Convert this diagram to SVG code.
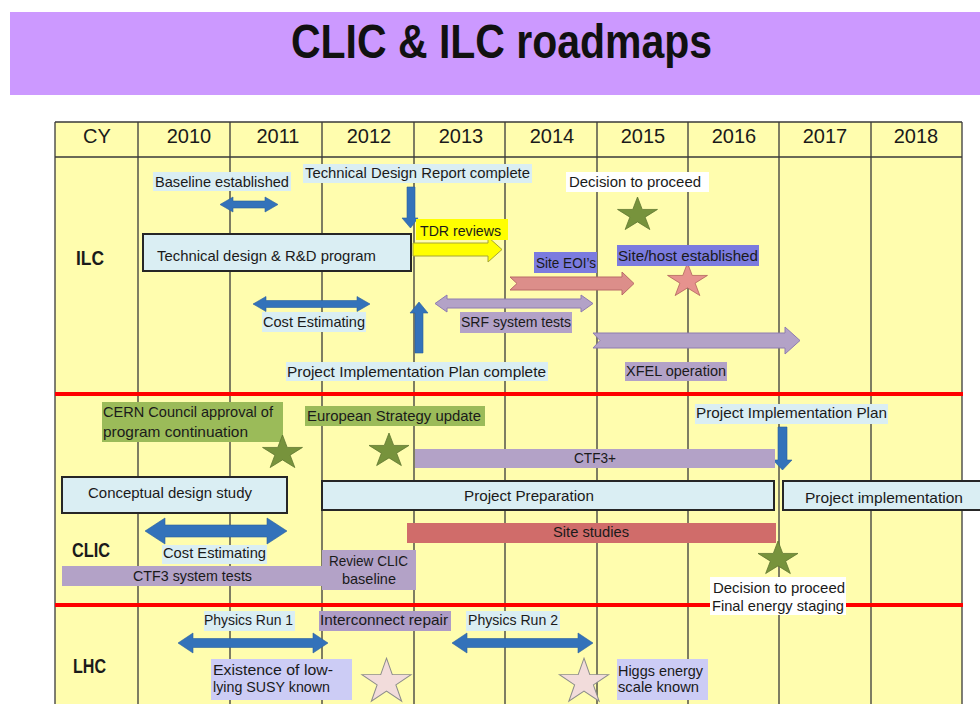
<svg xmlns="http://www.w3.org/2000/svg" xmlns:xlink="http://www.w3.org/1999/xlink" width="980" height="704" viewBox="0 0 980 704">
<style>
text{font-family:"Liberation Sans",Arial,sans-serif;fill:#1a1a1a}
.t{font-size:15px}
.yr{font-size:20px;text-anchor:middle}
.row{font-size:20px;font-weight:bold}
.grid{stroke:#3a3a3a;stroke-width:1.3;fill:none}
.red{stroke:#ff0000;stroke-width:4}
.lb{fill:#daeef3}
.box{fill:#daeef3;stroke:#262626;stroke-width:2}
.lav{fill:#b3a2c7}
.blue{fill:#3372ba;stroke:#2a5f9e;stroke-width:0.6}
.gstar{fill:#77933c;stroke:#5e7530;stroke-width:0.8}
.pstar{fill:#e6928e;stroke:#b0605c;stroke-width:0.8}
.wstar{fill:#f2dcdb;stroke:#8c8c8c;stroke-width:0.8}
</style>
<defs>
<path id="star" d="M0,-20 L4.497,-6.189 L19.021,-6.180 L7.276,2.364 L11.756,16.180 L0,7.65 L-11.756,16.180 L-7.276,2.364 L-19.021,-6.180 L-4.497,-6.189 Z"/>
</defs>

<rect width="980" height="704" fill="#ffffff"/>

<g id="title">
<rect x="10" y="12" width="970" height="83" fill="#cc99ff"/>
<text x="291" y="58" font-size="49" font-weight="bold" textLength="421" lengthAdjust="spacingAndGlyphs" style="fill:#111">CLIC &amp; ILC roadmaps</text>
</g>

<g id="table">
<rect x="55" y="122" width="907" height="590" fill="#fffdae"/>
<path class="grid" d="M55,122 H962 M55,157 H962 M55,122 V704 M138,122 V704 M230,122 V704 M322,122 V704 M414,122 V704 M505,122 V704 M597,122 V704 M688,122 V704 M779,122 V704 M871,122 V704 M962,122 V704"/>
<text class="yr" x="97" y="143">CY</text>
<text class="yr" x="189" y="143">2010</text>
<text class="yr" x="278" y="143">2011</text>
<text class="yr" x="369" y="143">2012</text>
<text class="yr" x="461" y="143">2013</text>
<text class="yr" x="552" y="143">2014</text>
<text class="yr" x="643" y="143">2015</text>
<text class="yr" x="734" y="143">2016</text>
<text class="yr" x="825" y="143">2017</text>
<text class="yr" x="916" y="143">2018</text>
<text class="row" x="76" y="265" textLength="28" lengthAdjust="spacingAndGlyphs">ILC</text>
<text class="row" x="72" y="557" textLength="38" lengthAdjust="spacingAndGlyphs">CLIC</text>
<text class="row" x="73" y="673" textLength="33" lengthAdjust="spacingAndGlyphs">LHC</text>
<line class="red" x1="55" y1="394" x2="963" y2="394"/>
<line class="red" x1="55" y1="605" x2="963" y2="605"/>
</g>

<g id="connectors">
<polygon id="arr-baseline" class="blue" points="220,204.5 233,197 233,201 265,201 265,197 278,204.5 265,212 265,208 233,208 233,212"/>
<polygon id="arr-tdr-down" class="blue" points="407,187 415,187 415,218 418,218 410.5,228 402,218 407,218"/>
<polygon id="arr-tdr-reviews" fill="#ffff00" stroke="#a6a633" stroke-width="1" points="413,243 488,243 488,237 502,249.5 488,262 488,256 413,256"/>
<polygon id="arr-site-eoi" fill="#dc8e8a" stroke="#b86b68" stroke-width="1" points="510,277 622,277 622,272 634,283.5 622,295 622,290 510,290 517,283.5"/>
<polygon id="arr-ilc-cost" class="blue" points="253,304 266,296.5 266,300.5 357,300.5 357,296.5 370,304 357,311.5 357,307.5 266,307.5 266,311.5"/>
<polygon id="arr-srf" class="lav" stroke="#8e7cb0" stroke-width="1" points="435,303.5 447,295 447,299 581,299 581,295 593,303.5 581,312 581,308 447,308 447,312"/>
<polygon id="arr-pip-up" class="blue" points="415,353 423,353 423,313 428,313 419,302 410,313 415,313"/>
<polygon id="arr-xfel" class="lav" stroke="#8e7cb0" stroke-width="1" points="593,333 785,333 785,327 800,340.5 785,354 785,348 593,348 600,340.5"/>
<polygon id="arr-clic-pip" class="blue" points="778,427 787,427 787,460 792,460 782.5,470 773,460 778,460"/>
<polygon id="arr-clic-cost" class="blue" points="145,531 165,518 165,525 267,525 267,518 287,531 267,544 267,537 165,537 165,544"/>
<polygon id="arr-run1" class="blue" points="178,643 193,633 193,638.5 313,638.5 313,633 328,643 313,653 313,647.5 193,647.5 193,653"/>
<polygon id="arr-run2" class="blue" points="452,643 467,633 467,638.5 578,638.5 578,633 593,643 578,653 578,647.5 467,647.5 467,653"/>
</g>

<g id="ilc-baseline"><rect class="lb" x="153" y="172" width="138" height="19"/><text class="t" x="155" y="187" textLength="134" lengthAdjust="spacingAndGlyphs">Baseline established</text></g>
<g id="ilc-tdr-complete"><rect class="lb" x="303" y="164" width="229" height="19"/><text class="t" x="305" y="178" textLength="225" lengthAdjust="spacingAndGlyphs">Technical Design Report complete</text></g>
<g id="ilc-decision"><rect fill="#ffffff" x="566" y="172" width="143" height="20"/><text class="t" x="569" y="187" textLength="132" lengthAdjust="spacingAndGlyphs">Decision to proceed</text><use href="#star" class="gstar" transform="translate(637.5,215) scale(1.05,0.9)"/></g>
<g id="ilc-tdr-reviews"><rect fill="#ffff00" x="416" y="219" width="92" height="21"/><text class="t" x="420" y="236" textLength="81" lengthAdjust="spacingAndGlyphs">TDR reviews</text></g>
<g id="ilc-tech-design"><rect class="box" x="143" y="234" width="268" height="37"/><text class="t" x="157" y="261" textLength="219" lengthAdjust="spacingAndGlyphs">Technical design &amp; R&amp;D program</text></g>
<g id="ilc-site-eoi"><rect fill="#7b7bdf" x="534" y="252" width="63" height="21"/><text class="t" x="536" y="268" textLength="60" lengthAdjust="spacingAndGlyphs">Site EOI’s</text></g>
<g id="ilc-site-host"><use href="#star" class="pstar" transform="translate(687.5,281) scale(1.05,0.9)"/><rect fill="#7b7bdf" x="617" y="245" width="142" height="21"/><text class="t" x="618" y="261" textLength="140" lengthAdjust="spacingAndGlyphs">Site/host established</text></g>
<g id="ilc-cost"><rect class="lb" x="262" y="312" width="104" height="20"/><text class="t" x="263" y="327" textLength="102" lengthAdjust="spacingAndGlyphs">Cost Estimating</text></g>
<g id="ilc-srf"><rect class="lav" x="460" y="312" width="112" height="21"/><text class="t" x="461" y="327" textLength="110" lengthAdjust="spacingAndGlyphs">SRF system tests</text></g>
<g id="ilc-pip"><rect class="lb" x="286" y="362" width="262" height="19"/><text class="t" x="287" y="377" textLength="259" lengthAdjust="spacingAndGlyphs">Project Implementation Plan complete</text></g>
<g id="ilc-xfel"><rect class="lav" x="625" y="362" width="102" height="19"/><text class="t" x="626" y="376" textLength="100" lengthAdjust="spacingAndGlyphs">XFEL operation</text></g>

<g id="clic-cern"><rect fill="#9bbb59" x="102" y="402" width="181" height="40"/><text class="t" x="103" y="417" textLength="170" lengthAdjust="spacingAndGlyphs">CERN Council approval of</text><text class="t" x="103" y="437" textLength="145" lengthAdjust="spacingAndGlyphs">program continuation</text><use href="#star" class="gstar" transform="translate(282.5,453) scale(1.05,0.9)"/></g>
<g id="clic-esu"><rect fill="#9bbb59" x="305" y="406" width="180" height="20"/><text class="t" x="307" y="421" textLength="174" lengthAdjust="spacingAndGlyphs">European Strategy update</text><use href="#star" class="gstar" transform="translate(389,451) scale(1.05,0.9)"/></g>
<g id="clic-pip"><rect class="lb" x="695" y="404" width="193" height="20"/><text class="t" x="696" y="418" textLength="191" lengthAdjust="spacingAndGlyphs">Project Implementation Plan</text></g>
<g id="clic-ctf3plus"><rect class="lav" x="415" y="449" width="360" height="19"/><text class="t" x="574" y="463" textLength="42" lengthAdjust="spacingAndGlyphs">CTF3+</text></g>
<g id="clic-cds"><rect class="box" x="62" y="477" width="225" height="36"/><text class="t" x="88" y="498" textLength="164" lengthAdjust="spacingAndGlyphs">Conceptual design study</text></g>
<g id="clic-prep"><rect class="box" x="322" y="481" width="452" height="29"/><text class="t" x="464" y="501" textLength="130" lengthAdjust="spacingAndGlyphs">Project Preparation</text></g>
<g id="clic-impl"><rect class="box" x="783" y="481" width="205" height="29"/><text class="t" x="805" y="503" textLength="158" lengthAdjust="spacingAndGlyphs">Project implementation</text></g>
<g id="clic-site"><rect fill="#d06c6a" x="407" y="523" width="369" height="20"/><text class="t" x="553" y="537" textLength="76" lengthAdjust="spacingAndGlyphs">Site studies</text></g>
<g id="clic-cost"><rect class="lb" x="162" y="545" width="105" height="19"/><text class="t" x="163" y="558" textLength="103" lengthAdjust="spacingAndGlyphs">Cost Estimating</text></g>
<g id="clic-ctf3"><rect class="lav" x="62" y="566" width="262" height="20"/><text class="t" x="133" y="581" textLength="119" lengthAdjust="spacingAndGlyphs">CTF3 system tests</text></g>
<g id="clic-review"><rect class="lav" x="322" y="550" width="94" height="40"/><text class="t" x="329" y="566" textLength="79" lengthAdjust="spacingAndGlyphs">Review CLIC</text><text class="t" x="342" y="584" textLength="54" lengthAdjust="spacingAndGlyphs">baseline</text></g>
<g id="clic-decision"><use href="#star" class="gstar" transform="translate(778,559) scale(1.05,0.9)"/><rect fill="#ffffff" x="710" y="577" width="136" height="38"/><text class="t" x="713" y="593" textLength="132" lengthAdjust="spacingAndGlyphs">Decision to proceed</text><text class="t" x="712" y="611" textLength="132" lengthAdjust="spacingAndGlyphs">Final energy staging</text></g>

<g id="lhc-run1"><rect class="lb" x="204" y="611" width="91" height="20"/><text class="t" x="204" y="625" textLength="89" lengthAdjust="spacingAndGlyphs">Physics Run 1</text></g>
<g id="lhc-repair"><rect fill="#ae9cc6" x="319" y="611" width="132" height="20"/><text class="t" x="320" y="625" textLength="128" lengthAdjust="spacingAndGlyphs">Interconnect repair</text></g>
<g id="lhc-run2"><rect class="lb" x="466" y="611" width="94" height="20"/><text class="t" x="468" y="625" textLength="90" lengthAdjust="spacingAndGlyphs">Physics Run 2</text></g>
<g id="lhc-susy"><rect fill="#ccccf5" x="211" y="659" width="141" height="41"/><text class="t" x="213" y="675" textLength="120" lengthAdjust="spacingAndGlyphs">Existence of low-</text><text class="t" x="213" y="692" textLength="117" lengthAdjust="spacingAndGlyphs">lying SUSY known</text><use href="#star" class="wstar" transform="translate(386.5,682) scale(1.29,1.19)"/></g>
<g id="lhc-higgs"><use href="#star" class="wstar" transform="translate(584,682) scale(1.29,1.19)"/><rect fill="#ccccf5" x="617" y="659" width="91" height="41"/><text class="t" x="618" y="676" textLength="85" lengthAdjust="spacingAndGlyphs">Higgs energy</text><text class="t" x="618" y="692" textLength="81" lengthAdjust="spacingAndGlyphs">scale known</text></g>
</svg>
